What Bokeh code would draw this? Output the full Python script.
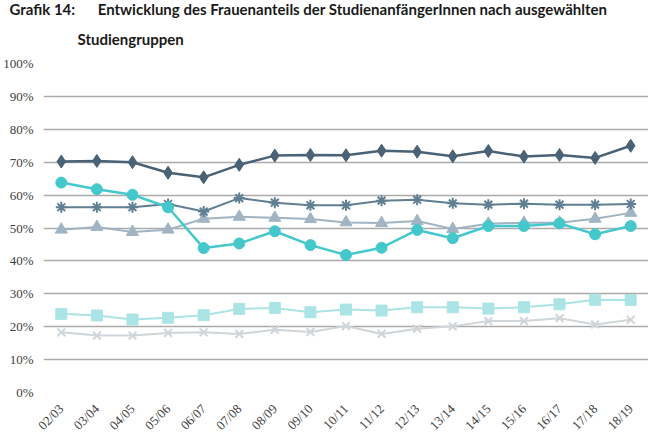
import math
from bokeh.plotting import figure
from bokeh.models import Range1d, FixedTicker, NumeralTickFormatter, Title, FactorRange
from bokeh.embed import file_html
from bokeh.resources import INLINE

years = ["02/03", "03/04", "04/05", "05/06", "06/07", "07/08", "08/09", "09/10", "10/11",
         "11/12", "12/13", "13/14", "14/15", "15/16", "16/17", "17/18", "18/19"]

s_diamond = [70.2, 70.4, 70.0, 66.8, 65.4, 69.2, 72.0, 72.2, 72.1, 73.5, 73.2, 71.8, 73.4, 71.7, 72.2, 71.3, 75.0]
s_star = [56.3, 56.3, 56.3, 57.3, 55.0, 59.1, 57.7, 56.9, 56.9, 58.3, 58.6, 57.5, 57.1, 57.4, 57.1, 57.1, 57.3]
s_triangle = [49.5, 50.3, 48.8, 49.5, 52.8, 53.4, 53.1, 52.7, 51.7, 51.5, 52.1, 49.7, 51.3, 51.6, 51.6, 52.8, 54.6]
s_circle = [63.8, 61.8, 60.1, 56.3, 43.9, 45.3, 49.0, 44.8, 41.8, 44.0, 49.4, 46.9, 50.6, 50.6, 51.4, 48.1, 50.6]
s_square = [23.9, 23.4, 22.2, 22.7, 23.5, 25.4, 25.7, 24.4, 25.2, 24.9, 25.9, 25.9, 25.5, 25.9, 26.8, 28.2, 28.1]
s_x = [18.3, 17.3, 17.3, 18.1, 18.3, 17.8, 19.1, 18.4, 20.2, 17.8, 19.4, 20.1, 21.7, 21.7, 22.6, 20.7, 22.1]

y_ticks = [0, 0.1, 0.2, 0.3, 0.4, 0.5, 0.6, 0.7, 0.8, 0.9, 1.0]
title_line1 = "Grafik 14:\u2002\u2002\u2002Entwicklung des Frauenanteils der StudienanfängerInnen nach ausgewählten"
title_line2 = "Studiengruppen"

p = figure(frame_width=605, frame_height=329, x_range=FactorRange(*years, range_padding=0),
           y_range=Range1d(0, 1.0), output_backend="svg", toolbar_location=None,
           min_border_left=34, min_border_right=1, min_border_top=63, min_border_bottom=44)
p.outline_line_color = None
p.xgrid.grid_line_color = None
p.ygrid.grid_line_color = "#ababab"
p.ygrid.grid_line_width = 1.5
p.yaxis.ticker = FixedTicker(ticks=y_ticks)
p.yaxis.formatter = NumeralTickFormatter(format="0%")
for ax in (p.xaxis, p.yaxis):
    ax.axis_line_color = None
    ax.major_tick_line_color = None
    ax.minor_tick_line_color = None
    ax.major_label_text_font = "Liberation Serif"
    ax.major_label_text_font_size = "13px"
    ax.major_label_text_color = "#404040"
p.yaxis.major_label_standoff = 4
p.xaxis.major_label_standoff = 8
p.xaxis.major_label_orientation = math.pi / 4

def pct(a):
    return [v / 100 for v in a]

c_x = "#cfd5d9"
p.line(years, pct(s_x), line_color=c_x, line_width=2)
p.scatter(years, pct(s_x), marker="x", size=11, line_color=c_x, line_width=2)

c_sq = "#abe4e4"
p.line(years, pct(s_square), line_color=c_sq, line_width=2)
p.scatter(years, pct(s_square), marker="square", size=11, fill_color=c_sq, line_color=c_sq)

c_tr = "#a0b4c3"
p.line(years, pct(s_triangle), line_color=c_tr, line_width=2)
p.scatter(years, pct(s_triangle), marker="triangle", size=12, fill_color=c_tr, line_color=c_tr)

c_st = "#5f7f93"
p.line(years, pct(s_star), line_color=c_st, line_width=2)
p.scatter(years, pct(s_star), marker="asterisk", size=11, line_color=c_st, line_width=2)

c_ci = "#45c8cc"
p.line(years, pct(s_circle), line_color=c_ci, line_width=2.5)
p.scatter(years, pct(s_circle), marker="circle", size=11, fill_color=c_ci, line_color=c_ci)

c_di = "#4a6275"
p.line(years, pct(s_diamond), line_color=c_di, line_width=2.5)
p.scatter(years, pct(s_diamond), marker="diamond", size=13, fill_color=c_di, line_color=c_di)

title_kw = dict(text_font="Lato", text_font_style="bold", text_font_size="15px",
                text_color="#1a1a1a", align="left")
p.add_layout(Title(text=title_line2, offset=34, standoff=31, **title_kw), "above")
p.add_layout(Title(text=title_line1, offset=-34, standoff=-10, **title_kw), "above")

open("out.html", "w").write(file_html(p, INLINE))
